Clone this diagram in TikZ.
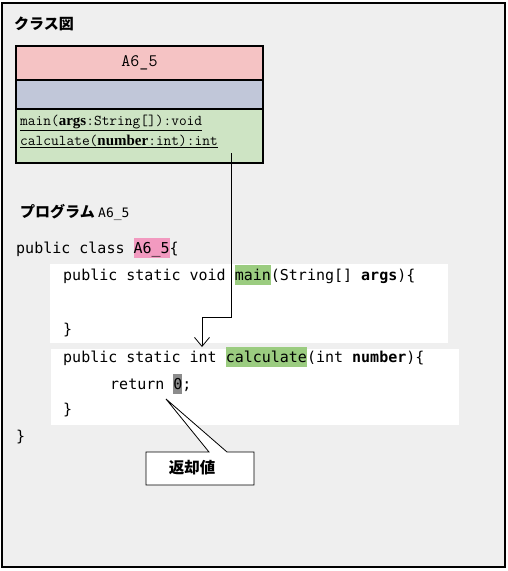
\documentclass[tikz,border=0pt]{standalone}
\usepackage{fontspec}
\setmainfont{Liberation Serif}
\newfontfamily\jpfont{Noto Sans CJK JP}
\newfontfamily\codefont{DejaVu Sans Mono}
\usetikzlibrary{arrows.meta, positioning}
\definecolor{panel}{HTML}{EFEFEF}
\definecolor{clsname}{HTML}{F5C3C4}
\definecolor{clsattr}{HTML}{C1C7D9}
\definecolor{clsop}{HTML}{CEE4C4}
\definecolor{hlpink}{HTML}{F29AC0}
\definecolor{hlgreen}{HTML}{9BCC80}
\definecolor{hlgray}{HTML}{8C8C8C}
\newcommand{\hlword}[2]{{\setlength{\fboxsep}{0pt}\colorbox{#1}{\rule[-5pt]{0pt}{20pt}#2}}}
\newcommand{\umlarg}[1]{{\rmfamily\bfseries #1}}
\tikzset{
  codeline/.style={anchor=base west, inner sep=0pt, font=\codefont\fontsize{15}{18}\selectfont},
  umlline/.style={anchor=base west, inner sep=0pt, font=\ttfamily\fontsize{15}{18}\selectfont},
  jplabel/.style={anchor=base west, inner sep=0pt, font=\jpfont\bfseries\fontsize{15}{18}\selectfont},
  compartment/.style={draw, line width=1.5pt, outer sep=0pt, minimum width=247pt, inner sep=0pt}
}

\begin{document}
\begin{tikzpicture}[x=1pt,y=-1pt]
  \useasboundingbox (0,0) rectangle (508,571);
  \draw[fill=panel, line width=1.2pt] (2,3) rectangle (505,567);
  \node[jplabel] (umlTitle) at (14,29) {クラス図};
  % class box
  \node[compartment, fill=clsname, minimum height=34pt, anchor=north west,
        font=\ttfamily\fontsize{17.5}{20}\selectfont] (clsName) at (16,46) {A6\_5};
  \node[compartment, fill=clsattr, minimum height=29pt, below=0pt of clsName] (clsAttr) {};
  \node[compartment, fill=clsop, minimum height=54pt, below=0pt of clsAttr] (clsOps) {};
  \node[umlline] (opMain) at (20,125) {\underline{main(\umlarg{args}:String[]):void}};
  \node[umlline] (opCalc) at (20,145) {\underline{calculate(\umlarg{number}:int):int}};
  % program
  \node[jplabel] (progTitle) at (20,217) {プログラム {\codefont\mdseries\fontsize{13}{16}\selectfont A6\_5}};
  \fill[white] (50,264) rectangle (448,343);
  \fill[white] (51,349) rectangle (459,425);
  \node[codeline] (clsHead) at (16,253) {public class \hlword{hlpink}{A6\_5}\{};
  \node[codeline] (mainHead) at (63,280) {public static void \hlword{hlgreen}{main}(String[] \textbf{args})\{};
  \node[codeline] (mainEnd) at (63,334) {\}};
  \node[codeline] (calcHead) at (63,362) {public static int \hlword{hlgreen}{calculate}(int \textbf{number})\{};
  \node[codeline] (calcRet) at (110,389) {return \hlword{hlgray}{0};};
  \node[codeline] (calcEnd) at (63,414) {\}};
  \node[codeline] (clsEnd) at (16,441) {\}};
  % link from operation to method
  \coordinate (opsRef) at (231,153);
  \coordinate (calcTip) at (202,347);
  \draw[-{Straight Barb[length=9pt,width=15pt]}, line width=0.8pt] (opsRef) -- (231,317) -| (calcTip);
  % callout
  \coordinate (retTip) at (166,399);
  \draw[fill=white, line width=0.8pt] (146,452) -- (209,452) -- (retTip) -- (227,452)
    -- (254,452) -- (254,485) -- (146,485) -- cycle;
  \node[font=\jpfont\bfseries\fontsize{15.5}{18}\selectfont] (retLabel) at (192,468) {返却値};
\end{tikzpicture}
\end{document}
